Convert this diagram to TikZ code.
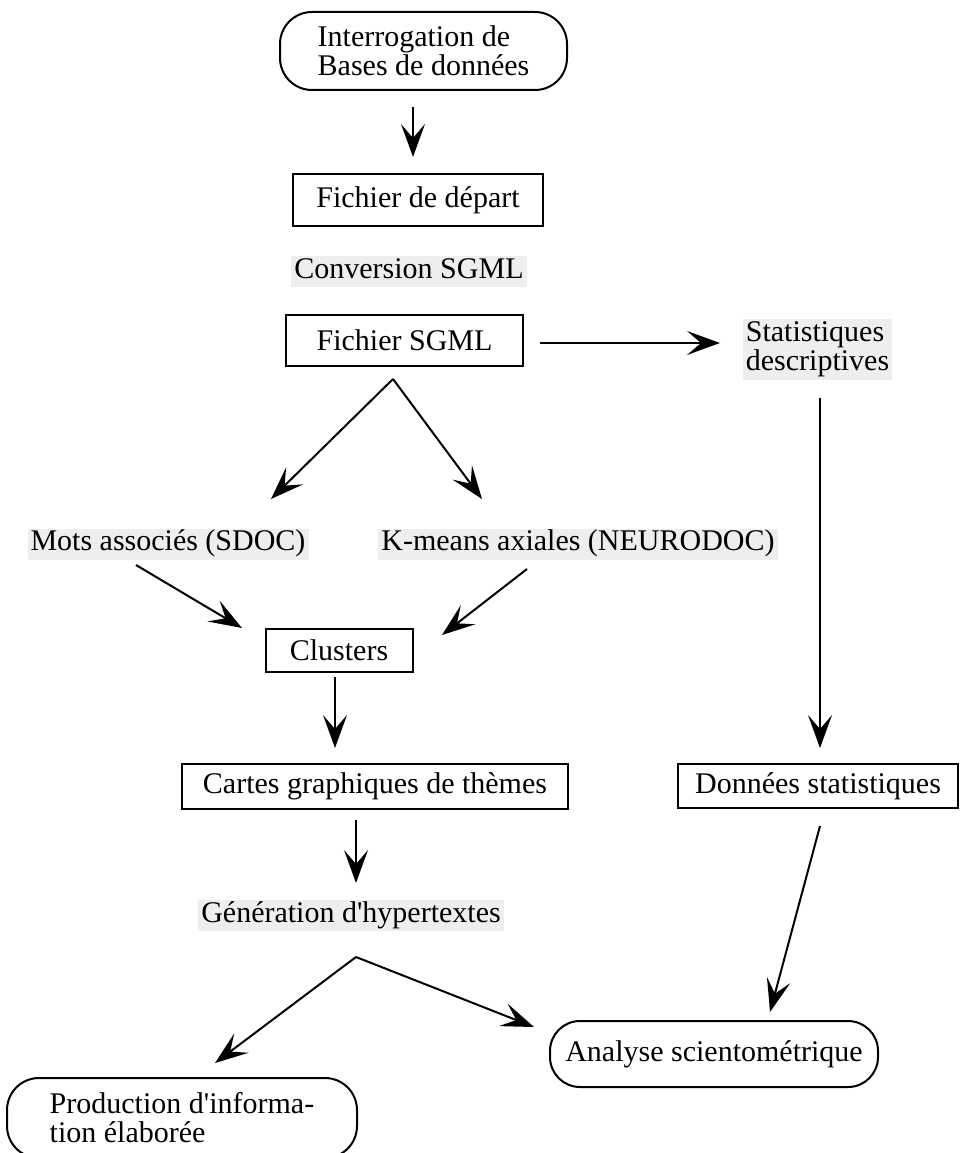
\documentclass[tikz,border=0pt]{standalone}
\usepackage{fontspec}
\setmainfont{Liberation Serif}
\usetikzlibrary{arrows.meta}
\definecolor{labelgray}{HTML}{EEEEEE}

\begin{document}
\begin{tikzpicture}[
  x=1pt, y=-1pt,
  font=\fontsize{30}{29}\selectfont,
  box/.style={rectangle, draw, line width=2pt, align=center, inner sep=0pt},
  roundbox/.style={box, rounded corners=32pt, align=left},
  tag/.style={rectangle, fill=labelgray, inner xsep=3pt, inner ysep=0pt, text height=22pt, text depth=9pt},
  tagtwo/.style={rectangle, fill=labelgray, inner xsep=3pt, inner ysep=0pt, align=left},
  arrow/.style={-{Stealth[length=33pt, width=24pt, inset=14pt]}, line width=2pt},
]
\useasboundingbox (0,0) rectangle (960,1153);

% === Sources ===
\node[roundbox, minimum width=287pt, minimum height=78pt] (query) at (423.5,51) {Interrogation de\\Bases de données};
\node[box, minimum width=250pt, minimum height=52pt] (depart) at (418,200) {Fichier de départ};
\node[tag] (conv) at (409,271.5) {Conversion SGML};
\node[box, minimum width=237pt, minimum height=51pt] (sgml) at (404.5,340.5) {Fichier SGML};

\coordinate (q0) at (413,107);
\coordinate (q1) at (413,157);
\draw[arrow] (q0) -- (q1);

% === Statistics branch ===
\node[tagtwo, minimum height=61pt] (stat) at (817.5,349.5) {Statistiques\\descriptives};
\node[box, minimum width=280pt, minimum height=44pt] (donnees) at (818,786) {Données statistiques};

\coordinate (s0) at (540,343);
\coordinate (s1) at (720,343);
\draw[arrow] (s0) -- (s1);
\coordinate (d0) at (820,398);
\coordinate (d1) at (820,748);
\draw[arrow] (d0) -- (d1);

% === Classification ===
\node[tag] (mots) at (168,544) {Mots associés (SDOC)};
\node[tag] (kmeans) at (578,544) {K-means axiales (NEURODOC)};
\node[box, minimum width=147pt, minimum height=43pt] (clusters) at (339,650.5) {Clusters};

\coordinate (fork) at (393,379);
\coordinate (forkl) at (271,499);
\coordinate (forkr) at (482,499);
\draw[arrow] (fork) -- (forkl);
\draw[arrow] (fork) -- (forkr);

\coordinate (m0) at (136,565);
\coordinate (m1) at (242,628);
\draw[arrow] (m0) -- (m1);
\coordinate (k0) at (527,569);
\coordinate (k1) at (442,635);
\draw[arrow] (k0) -- (k1);

% === Maps and hypertexts ===
\node[box, minimum width=386pt, minimum height=45pt] (cartes) at (375,786.5) {Cartes graphiques de thèmes};
\node[tag] (gen) at (351,915.5) {Génération d\textquotesingle hypertextes};

\coordinate (c0) at (335,677);
\coordinate (c1) at (335,748);
\draw[arrow] (c0) -- (c1);
\coordinate (g0) at (356,820);
\coordinate (g1) at (356,883);
\draw[arrow] (g0) -- (g1);

% === Outputs ===
\node[roundbox, minimum width=328pt, minimum height=66pt, rounded corners=30pt] (analyse) at (714,1054) {Analyse scientométrique};
\node[roundbox, minimum width=350pt, minimum height=80pt] (prod) at (182,1118) {Production d\textquotesingle informa-\\tion élaborée};

\coordinate (h0) at (356,957);
\coordinate (hl) at (215,1063);
\coordinate (hr) at (534,1027);
\draw[arrow] (h0) -- (hl);
\draw[arrow] (h0) -- (hr);
\coordinate (a0) at (820,826);
\coordinate (a1) at (770,1012);
\draw[arrow] (a0) -- (a1);

\end{tikzpicture}
\end{document}
